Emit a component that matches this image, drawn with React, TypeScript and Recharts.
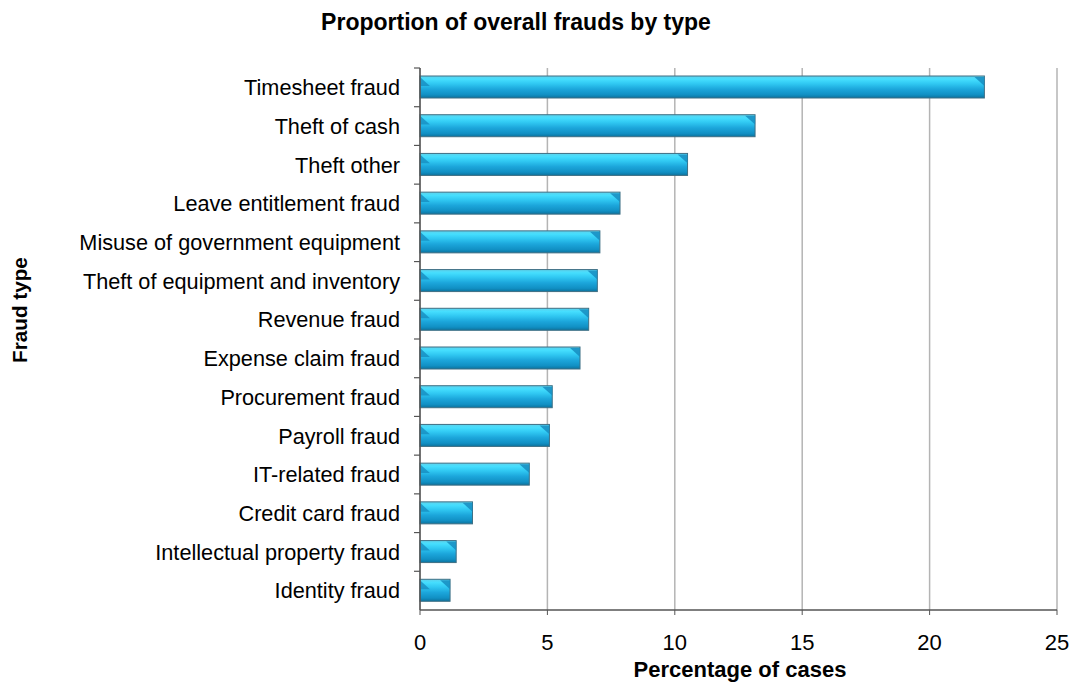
import React from 'react';
import { BarChart, Bar, XAxis, YAxis, CartesianGrid } from 'recharts';

// Fraud categories, top to bottom
const categories = [
  'Timesheet fraud',
  'Theft of cash',
  'Theft other',
  'Leave entitlement fraud',
  'Misuse of government equipment',
  'Theft of equipment and inventory',
  'Revenue fraud',
  'Expense claim fraud',
  'Procurement fraud',
  'Payroll fraud',
  'IT-related fraud',
  'Credit card fraud',
  'Intellectual property fraud',
  'Identity fraud',
];

// Percentage of cases for each category
const percentages = [22.15, 13.15, 10.5, 7.85, 7.06, 6.96, 6.62, 6.28, 5.19, 5.08, 4.29, 2.06, 1.42, 1.18];

const xTicks = [0, 5, 10, 15, 20, 25];

const FONT = '"Liberation Sans", Arial, Helvetica, sans-serif';

const WIDTH = 1080;
const HEIGHT = 682;
const PLOT_LEFT = 420;
const PLOT_TOP = 68;
const PLOT_BOTTOM = 610;
const BAND = (PLOT_BOTTOM - PLOT_TOP) / categories.length;

const data = categories.map((name, i) => ({ name, value: percentages[i] }));

// bar drawn as a bevelled tube like the original office chart
const TubeBar = (props: any) => {
  const { x, y, width, height } = props;
  if (!width || width <= 0) return null;
  const b = Math.min(height * 0.45, width / 2);
  return (
    <g>
      <rect x={x} y={y} width={width} height={height} fill="url(#tubeFill)" stroke="#3f6f84" strokeWidth={1} />
      <polygon
        points={`${x},${y + 1} ${x + b},${y + b} ${x},${y + b}`}
        fill="#168cbf"
        opacity={0.8}
      />
      <polygon
        points={`${x + width - b},${y + 1} ${x + width},${y + 1} ${x + width},${y + b}`}
        fill="#168cbf"
        opacity={0.85}
      />
    </g>
  );
};

const CategoryTick = (props: any) => {
  const { x, y, payload } = props;
  const lineY = y - BAND / 2;
  return (
    <g>
      <line x1={PLOT_LEFT - 6} x2={PLOT_LEFT} y1={lineY} y2={lineY} stroke="#555" strokeWidth={1.2} />
      <text x={x} y={y} dy="0.36em" textAnchor="end" fill="#000" fontSize={21.7} fontFamily={FONT}>
        {payload.value}
      </text>
    </g>
  );
};

export default function App() {
  return (
    <div style={{ position: 'absolute', left: 0, top: 0, width: WIDTH, height: HEIGHT, background: '#fff' }}>
      <BarChart
        width={WIDTH}
        height={HEIGHT}
        data={data}
        layout="vertical"
        margin={{ top: PLOT_TOP, right: 23, bottom: 32, left: 0 }}
      >
        <defs>
          <linearGradient id="tubeFill" x1="0" y1="0" x2="0" y2="1">
            <stop offset="0%" stopColor="#5fd2ec" />
            <stop offset="15%" stopColor="#45defe" />
            <stop offset="35%" stopColor="#30c8f2" />
            <stop offset="60%" stopColor="#1ca6db" />
            <stop offset="85%" stopColor="#1190c4" />
            <stop offset="100%" stopColor="#0c729d" />
          </linearGradient>
        </defs>
        <CartesianGrid horizontal={false} stroke="#b4b4b4" strokeWidth={1.5} />
        <XAxis
          type="number"
          domain={[0, 25]}
          ticks={xTicks}
          height={40}
          axisLine={{ stroke: '#555', strokeWidth: 1.5 }}
          tickLine={{ stroke: '#555' }}
          tickSize={5}
          tickMargin={19}
          tick={{ fill: '#000', fontSize: 22, fontFamily: FONT }}
        />
        <YAxis
          type="category"
          dataKey="name"
          width={PLOT_LEFT}
          axisLine={{ stroke: '#555', strokeWidth: 1.5 }}
          tickLine={false}
          tickSize={6}
          tickMargin={14}
          interval={0}
          tick={<CategoryTick />}
        />
        <Bar dataKey="value" barSize={22} shape={<TubeBar />} isAnimationActive={false} />
      </BarChart>
      <svg
        width={WIDTH}
        height={HEIGHT}
        style={{ position: 'absolute', left: 0, top: 0, pointerEvents: 'none' }}
      >
        <text x={516} y={30} textAnchor="middle" fontSize={23} fontWeight="bold" fontFamily={FONT} fill="#000">
          Proportion of overall frauds by type
        </text>
        <text x={740} y={677} textAnchor="middle" fontSize={22} fontWeight="bold" fontFamily={FONT} fill="#000">
          Percentage of cases
        </text>
        <text
          x={27}
          y={310}
          textAnchor="middle"
          fontSize={20.7}
          fontWeight="bold"
          fontFamily={FONT}
          fill="#000"
          transform="rotate(-90, 27, 310)"
        >
          Fraud type
        </text>
      </svg>
    </div>
  );
}
